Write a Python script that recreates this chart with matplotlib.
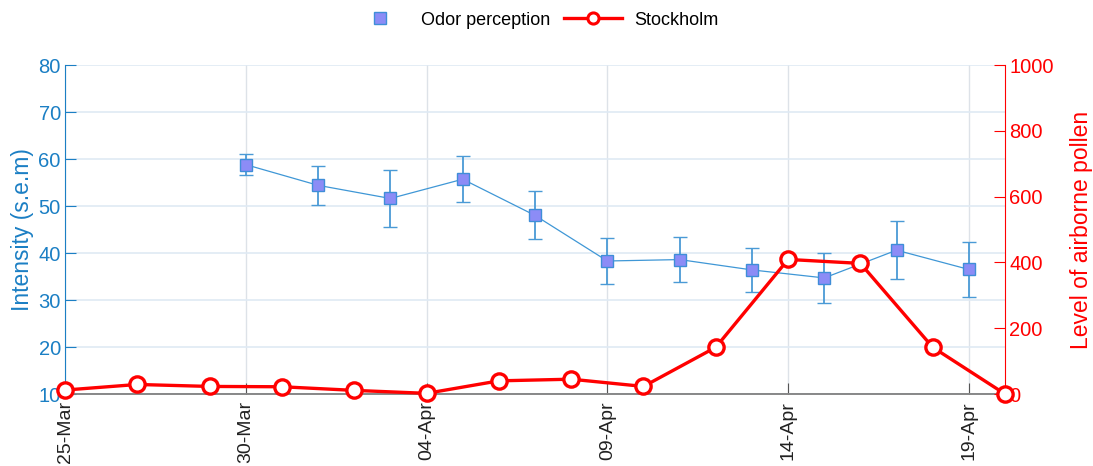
import pandas as pd
import numpy as np
import matplotlib.pyplot as plt
import matplotlib.dates as mdates
from matplotlib.lines import Line2D

plt.rcParams['font.family'] = ['Liberation Sans', 'DejaVu Sans']

# Odor perception (mean intensity with s.e.m)
odor_dates = ['2020-03-30', '2020-04-01', '2020-04-03', '2020-04-05', '2020-04-07',
              '2020-04-09', '2020-04-11', '2020-04-13', '2020-04-15', '2020-04-17',
              '2020-04-19']
odor_mean = [58.8, 54.4, 51.6, 55.7, 48.0, 38.3, 38.6, 36.4, 34.7, 40.6, 36.5]
odor_sem = [2.2, 4.2, 6.0, 4.9, 5.1, 4.9, 4.8, 4.6, 5.3, 6.2, 5.8]

# Airborne pollen, Stockholm
pollen_dates = ['2020-03-25', '2020-03-27', '2020-03-29', '2020-03-31', '2020-04-02',
                '2020-04-04', '2020-04-06', '2020-04-08', '2020-04-10', '2020-04-12',
                '2020-04-14', '2020-04-16', '2020-04-18', '2020-04-20']
pollen_level = [12, 29, 23, 22, 11, 2, 40, 45, 23, 142, 409, 397, 142, 0]

tick_dates = ['2020-03-25', '2020-03-30', '2020-04-04', '2020-04-09', '2020-04-14', '2020-04-19']

blue = '#1b7fc4'
red = '#ff0000'

od = pd.to_datetime(odor_dates)
pdates = pd.to_datetime(pollen_dates)
ticks = pd.to_datetime(tick_dates)

fig = plt.figure(figsize=(10.93, 4.66), dpi=100)
ax = fig.add_axes([0.0595, 0.1545, 0.86, 0.706])

ax.errorbar(od, odor_mean, yerr=odor_sem, color='#3f97d6', linewidth=0.9,
            marker='s', markersize=8.5, markerfacecolor='#8c8cf6',
            markeredgecolor='#3f8ed8', markeredgewidth=1.0,
            ecolor='#4a9ad6', elinewidth=1.3, capsize=5, capthick=1.3, zorder=3)

ax.set_xlim(pd.Timestamp('2020-03-25'), pd.Timestamp('2020-04-20'))
ax.set_ylim(10, 80)
ax.set_yticks(np.arange(10, 81, 10))
ax.set_xticks(ticks)
ax.xaxis.set_major_formatter(mdates.DateFormatter('%d-%b'))
ax.tick_params(axis='x', rotation=90, direction='in', length=8, labelsize=14,
               colors='#555555', labelcolor='#222222', pad=5)
ax.tick_params(axis='y', direction='in', length=8, labelsize=14.5, colors=blue,
               pad=3)
ax.set_ylabel('Intensity (s.e.m)', color=blue, fontsize=16.5, labelpad=3)

ax.grid(axis='y', color='#dfeaf4', linewidth=1.2)
ax.grid(axis='x', color='#dde2e8', linewidth=1.0)
ax.set_axisbelow(True)

for s in ['top', 'right']:
    ax.spines[s].set_visible(False)
ax.spines['left'].set_color(blue)
ax.spines['bottom'].set_color('#7f7f7f')
ax.spines['bottom'].set_linewidth(1.3)

ax2 = ax.twinx()
ax2.plot(pdates, pollen_level, color=red, linewidth=2.4, marker='o',
         markersize=11, markerfacecolor='white', markeredgecolor=red,
         markeredgewidth=2.4, clip_on=False, zorder=4)
ax2.set_ylim(0, 1000)
ax2.set_yticks(np.arange(0, 1001, 200))
ax2.tick_params(axis='y', direction='in', length=8, labelsize=14.5, colors=red, pad=3)
ax2.set_ylabel('Level of airborne pollen', color=red, fontsize=16.5, labelpad=12)
for s in ['top', 'left', 'bottom']:
    ax2.spines[s].set_visible(False)
ax2.spines['right'].set_color(red)

handles = [
    Line2D([], [], linestyle='none', marker='s', markersize=8.5,
           markerfacecolor='#8c8cf6', markeredgecolor='#3f8ed8'),
    Line2D([], [], color=red, linewidth=2.4, marker='o', markersize=8,
           markerfacecolor='white', markeredgecolor=red, markeredgewidth=2.2),
]
fig.legend(handles, ['Odor perception', 'Stockholm'], loc='center',
           bbox_to_anchor=(0.489, 0.957), ncol=2, frameon=False, fontsize=13,
           handlelength=3.2, columnspacing=0.8, handletextpad=0.65)

plt.savefig('out.png', dpi=100)
